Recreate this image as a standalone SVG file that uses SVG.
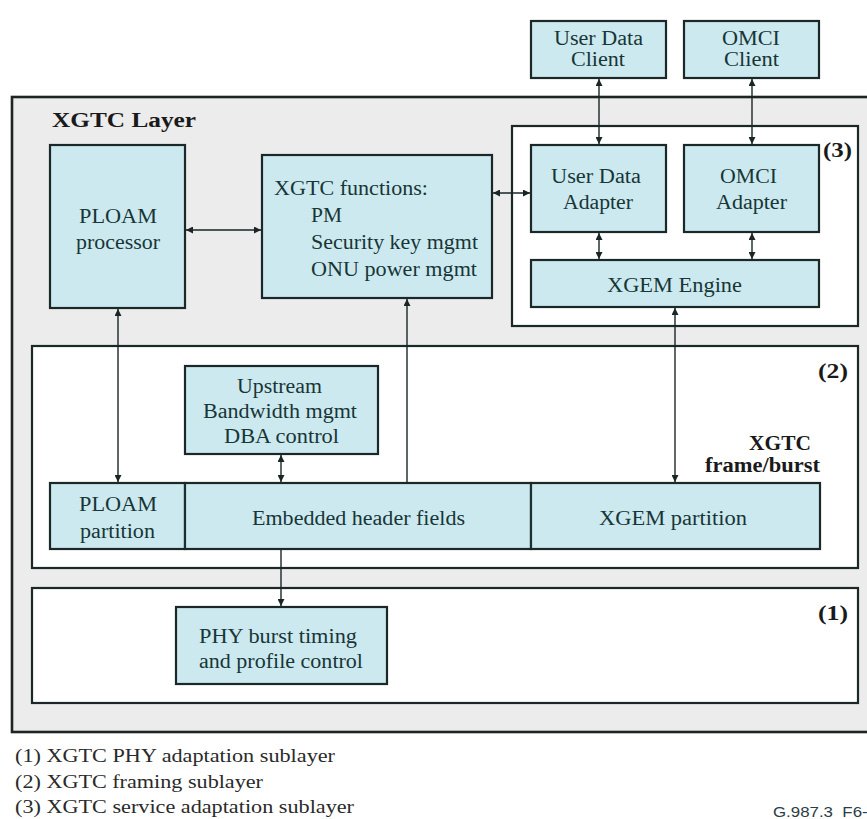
<svg xmlns="http://www.w3.org/2000/svg" width="867" height="819" viewBox="0 0 867 819">
  <style>
    .box { fill: #cde9f0; stroke: #1c2828; stroke-width: 2.2; }
    .layer { fill: #ffffff; stroke: #1c2828; stroke-width: 2.2; }
    .div { stroke: #1c3434; stroke-width: 1.4; }
    .t { font-family: "Liberation Serif", "Times New Roman", serif; font-size: 20px; fill: #173636; }
    .b { font-family: "Liberation Serif", "Times New Roman", serif; font-size: 20px; font-weight: bold; fill: #1a1a1a; }
    .lg { font-family: "Liberation Serif", "Times New Roman", serif; font-size: 18px; fill: #2a2a2a; }
    .conn { stroke: #1a2626; stroke-width: 1.4; fill: none; }
    .tag { font-family: "Liberation Sans", Arial, sans-serif; font-size: 15px; fill: #2c3c44; }
  </style>
  <defs>
    <marker id="ah" viewBox="0 0 10 10" refX="10" refY="5" markerWidth="7" markerHeight="7" markerUnits="userSpaceOnUse" orient="auto-start-reverse">
      <path d="M0,0 L10,5 L0,10 Z" fill="#1a2626"/>
    </marker>
  </defs>

  <rect x="0" y="0" width="867" height="819" fill="#ffffff"/>

  <!-- XGTC layer frame -->
  <g id="xgtc-layer">
    <rect x="12" y="97" width="870" height="635" fill="#ececec" stroke="#1c2424" stroke-width="2.6"/>
    <text class="b" x="52" y="127" textLength="144" lengthAdjust="spacingAndGlyphs">XGTC Layer</text>
  </g>

  <!-- sublayer frames -->
  <g id="service-sublayer">
    <rect class="layer" x="512" y="126" width="346" height="200"/>
    <text class="b" x="823" y="157" textLength="29" lengthAdjust="spacingAndGlyphs">(3)</text>
  </g>
  <g id="framing-sublayer">
    <rect class="layer" x="32" y="346" width="826" height="222"/>
    <text class="b" x="818" y="378" textLength="30" lengthAdjust="spacingAndGlyphs">(2)</text>
    <text class="b" x="749" y="450" textLength="62" lengthAdjust="spacingAndGlyphs">XGTC</text>
    <text class="b" x="705" y="472" textLength="115" lengthAdjust="spacingAndGlyphs">frame/burst</text>
  </g>
  <g id="phy-sublayer">
    <rect class="layer" x="32" y="588" width="826" height="115"/>
    <text class="b" x="818" y="620" textLength="30" lengthAdjust="spacingAndGlyphs">(1)</text>
  </g>

  <!-- client nodes -->
  <g id="user-data-client">
    <rect class="box" x="531" y="21" width="135" height="57"/>
    <text class="t" x="554" y="45" textLength="89" lengthAdjust="spacingAndGlyphs">User Data</text>
    <text class="t" x="571" y="66" textLength="54" lengthAdjust="spacingAndGlyphs">Client</text>
  </g>
  <g id="omci-client">
    <rect class="box" x="684" y="21" width="135" height="57"/>
    <text class="t" x="722" y="45" textLength="58" lengthAdjust="spacingAndGlyphs">OMCI</text>
    <text class="t" x="724" y="66" textLength="55" lengthAdjust="spacingAndGlyphs">Client</text>
  </g>

  <g id="ploam-processor">
    <rect class="box" x="50" y="145" width="135" height="163"/>
    <text class="t" x="79" y="223" textLength="78" lengthAdjust="spacingAndGlyphs">PLOAM</text>
    <text class="t" x="76" y="249" textLength="84" lengthAdjust="spacingAndGlyphs">processor</text>
  </g>

  <g id="xgtc-functions">
    <rect class="box" x="262" y="155" width="230" height="143"/>
    <text class="t" x="274" y="195" textLength="154" lengthAdjust="spacingAndGlyphs">XGTC functions:</text>
    <text class="t" x="311" y="222" textLength="31" lengthAdjust="spacingAndGlyphs">PM</text>
    <text class="t" x="311" y="249" textLength="167" lengthAdjust="spacingAndGlyphs">Security key mgmt</text>
    <text class="t" x="311" y="276" textLength="166" lengthAdjust="spacingAndGlyphs">ONU power mgmt</text>
  </g>

  <g id="user-data-adapter">
    <rect class="box" x="531" y="145" width="135" height="87"/>
    <text class="t" x="551" y="183" textLength="90" lengthAdjust="spacingAndGlyphs">User Data</text>
    <text class="t" x="563" y="209" textLength="70" lengthAdjust="spacingAndGlyphs">Adapter</text>
  </g>
  <g id="omci-adapter">
    <rect class="box" x="684" y="145" width="135" height="87"/>
    <text class="t" x="720" y="183" textLength="57" lengthAdjust="spacingAndGlyphs">OMCI</text>
    <text class="t" x="716" y="209" textLength="71" lengthAdjust="spacingAndGlyphs">Adapter</text>
  </g>
  <g id="xgem-engine">
    <rect class="box" x="531" y="260" width="288" height="47"/>
    <text class="t" x="607" y="292" textLength="135" lengthAdjust="spacingAndGlyphs">XGEM Engine</text>
  </g>

  <g id="upstream-bw">
    <rect class="box" x="185" y="366" width="193" height="88"/>
    <text class="t" x="237" y="393" textLength="85" lengthAdjust="spacingAndGlyphs">Upstream</text>
    <text class="t" x="203" y="418" textLength="154" lengthAdjust="spacingAndGlyphs">Bandwidth mgmt</text>
    <text class="t" x="224" y="443" textLength="115" lengthAdjust="spacingAndGlyphs">DBA control</text>
  </g>

  <!-- frame/burst row -->
  <g id="ploam-partition">
    <rect class="box" x="50" y="483" width="135" height="66"/>
    <text class="t" x="79" y="511" textLength="78" lengthAdjust="spacingAndGlyphs">PLOAM</text>
    <text class="t" x="80" y="538" textLength="75" lengthAdjust="spacingAndGlyphs">partition</text>
  </g>
  <g id="embedded-header">
    <rect class="box" x="185" y="483" width="346" height="66"/>
    <text class="t" x="252" y="525" textLength="213" lengthAdjust="spacingAndGlyphs">Embedded header fields</text>
  </g>
  <g id="xgem-partition">
    <rect class="box" x="531" y="483" width="289" height="66"/>
    <text class="t" x="599" y="525" textLength="148" lengthAdjust="spacingAndGlyphs">XGEM partition</text>
  </g>
  <g id="frame-dividers">
    <line class="div" x1="185" y1="484" x2="185" y2="548"/>
    <line class="div" x1="531" y1="484" x2="531" y2="548"/>
  </g>

  <g id="phy-burst">
    <rect class="box" x="176" y="607" width="211" height="77"/>
    <text class="t" x="199" y="643" textLength="158" lengthAdjust="spacingAndGlyphs">PHY burst timing</text>
    <text class="t" x="199" y="668" textLength="164" lengthAdjust="spacingAndGlyphs">and profile control</text>
  </g>

  <!-- connectors -->
  <g id="connectors">
    <line class="conn" x1="186" y1="230" x2="261" y2="230" marker-start="url(#ah)" marker-end="url(#ah)"/>
    <line class="conn" x1="493" y1="193" x2="530" y2="193" marker-start="url(#ah)" marker-end="url(#ah)"/>
    <line class="conn" x1="599" y1="79" x2="599" y2="144" marker-start="url(#ah)" marker-end="url(#ah)"/>
    <line class="conn" x1="752" y1="79" x2="752" y2="144" marker-start="url(#ah)" marker-end="url(#ah)"/>
    <line class="conn" x1="599" y1="233" x2="599" y2="259" marker-start="url(#ah)" marker-end="url(#ah)"/>
    <line class="conn" x1="752" y1="233" x2="752" y2="259" marker-start="url(#ah)" marker-end="url(#ah)"/>
    <line class="conn" x1="675" y1="308" x2="675" y2="482" marker-start="url(#ah)" marker-end="url(#ah)"/>
    <line class="conn" x1="118" y1="309" x2="118" y2="482" marker-start="url(#ah)" marker-end="url(#ah)"/>
    <line class="conn" x1="407" y1="483" x2="407" y2="299" marker-end="url(#ah)"/>
    <line class="conn" x1="281" y1="455" x2="281" y2="482" marker-start="url(#ah)" marker-end="url(#ah)"/>
    <line class="conn" x1="281" y1="549" x2="281" y2="606" marker-end="url(#ah)"/>
  </g>

  <!-- legend -->
  <g id="legend">
    <text class="lg" x="15" y="762" textLength="320" lengthAdjust="spacingAndGlyphs">(1) XGTC PHY adaptation sublayer</text>
    <text class="lg" x="15" y="788" textLength="248" lengthAdjust="spacingAndGlyphs">(2) XGTC framing sublayer</text>
    <text class="lg" x="15" y="813" textLength="339" lengthAdjust="spacingAndGlyphs">(3) XGTC service adaptation sublayer</text>
    <text class="tag" x="773" y="817" textLength="104" lengthAdjust="spacingAndGlyphs">G.987.3_F6-3</text>
  </g>
</svg>
